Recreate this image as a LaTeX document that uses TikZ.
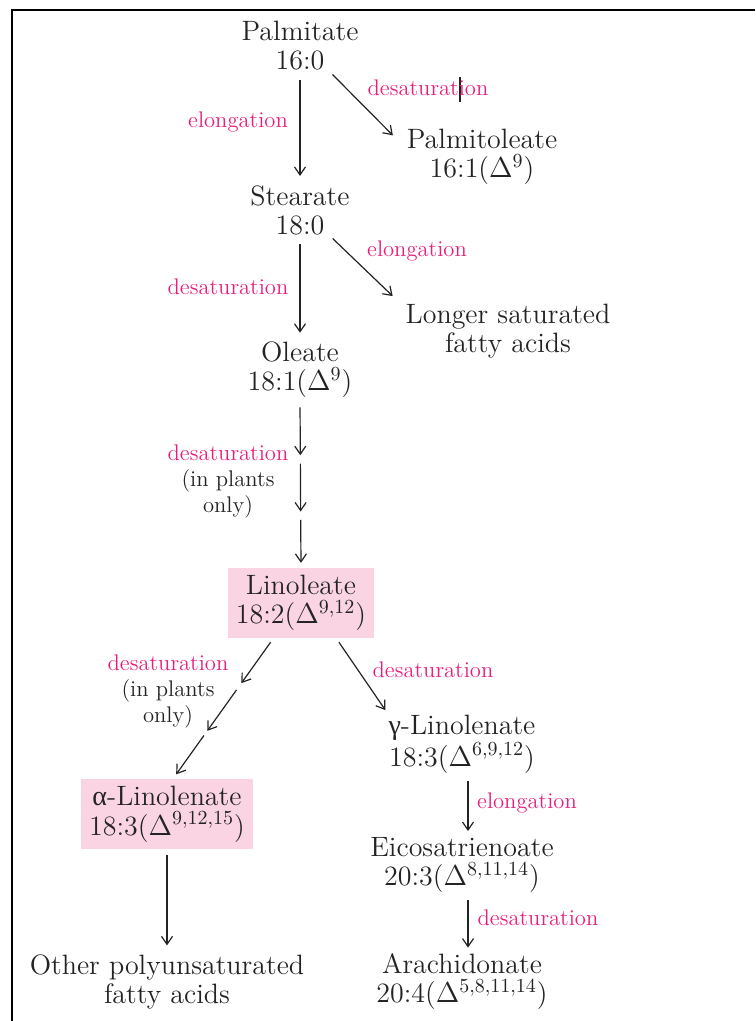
\documentclass[tikz,border=0pt]{standalone}
\usepackage{fontspec}
\newfontfamily\greekfont{Liberation Serif}
\usetikzlibrary{arrows.meta,calc}
\definecolor{enzpink}{RGB}{233,30,125}
\definecolor{boxpink}{RGB}{250,212,226}
\definecolor{ink}{RGB}{35,35,35}

\begin{document}
\begin{tikzpicture}[x=0.5pt,y=-0.5pt,
	acid/.style={align=center,text=ink,inner sep=2pt,font=\fontsize{14}{14.5}\selectfont},
	hilite/.style={acid,fill=boxpink,inner xsep=4pt,inner ysep=3.5pt},
	enz/.style={align=center,text=enzpink,inner sep=1pt,font=\fontsize{11.3}{13}\selectfont},
	rxn/.style={draw=ink,line width=0.6pt,-{Straight Barb[length=4pt,width=5.5pt]},shorten <=2.5pt,shorten >=2.5pt}]
			\useasboundingbox (0,0) rectangle (755,1021);
			%frame
			\draw[line width=1.1pt] (12,1021) -- (12,10) -- (755,10);
			\draw[ink,line width=0.8pt] (460,77) -- (460,102);

			%saturated nodes
			\node [acid] (palm) at (300,46) {Palmitate\\16:0};
			\node [acid] (palmo) at (482,157) {Palmitoleate\\16:1($\Delta^{9}$)};
			\node [acid] (stea) at (300,210) {Stearate\\18:0};
			\node [acid] (longer) at (508,331) {Longer saturated\\fatty acids};
			\node [acid] (ole) at (300,370) {Oleate\\18:1($\Delta^{9}$)};

			%unsaturated nodes
			\node [hilite] (lino) at (301,603) {Linoleate\\18:2($\Delta^{9,12}$)};
			\node [hilite] (alpha) at (167,814) {{\greekfont α}-Linolenate\\[0.5pt]18:3($\Delta^{9,12,15}$)};
			\node [acid] (gamma) at (462,744) {{\greekfont γ}-Linolenate\\[0.5pt]18:3($\Delta^{6,9,12}$)};
			\node [acid] (eico) at (462,865) {Eicosatrienoate\\20:3($\Delta^{8,11,14}$)};
			\node [acid] (arach) at (462,982) {Arachidonate\\20:4($\Delta^{5,8,11,14}$)};
			\node [acid] (other) at (167,982) {Other polyunsaturated\\fatty acids};

			%enzyme labels
			\node [enz] (elong1) at (238,122) {elongation};
			\node [enz] (desat1) at (428,88) {desaturation};
			\node [enz] (desat2) at (228,287) {desaturation};
			\node [enz] (elong2) at (417,251) {elongation};
			\node [enz] (desat3) at (228,481) {desaturation\\\textcolor{ink}{(in plants}\\\textcolor{ink}{only)}};
			\node [enz] (desat4) at (168,691) {desaturation\\\textcolor{ink}{(in plants}\\\textcolor{ink}{only)}};
			\node [enz] (desat5) at (433,670) {desaturation};
			\node [enz] (elong3) at (527,803) {elongation};
			\node [enz] (desat6) at (538,918) {desaturation};

			%arrows
			\draw[rxn] (palm) -- (stea);
			\draw[rxn] ([yshift=2pt]palm.-45) -- ([xshift=-3pt,yshift=-7pt]palmo.north west);
			\draw[rxn] (stea) -- (ole);
			\draw[rxn] ([yshift=2pt]stea.-45) -- ([xshift=-2.5pt,yshift=0pt]longer.north west);
			\draw[rxn] (ole.south) -- ($(ole.south)!.35!(lino.north)$);
			\draw[rxn] ($(ole.south)!.34!(lino.north)$) -- ($(ole.south)!.69!(lino.north)$);
			\draw[rxn] ($(ole.south)!.68!(lino.north)$) -- (lino.north);
			\draw[rxn] (lino.232) -- ($(lino.232)!.35!(alpha.80)$);
			\draw[rxn] ($(lino.232)!.34!(alpha.80)$) -- ($(lino.232)!.69!(alpha.80)$);
			\draw[rxn] ($(lino.232)!.665!(alpha.80)$) -- (alpha.80);
			\draw[rxn] (lino.-45) -- ([xshift=2pt,yshift=-2pt]gamma.north west);
			\draw[rxn,shorten <=1.5pt,shorten >=1pt] ([xshift=3pt]gamma.south) -- ([xshift=3pt]eico.north);
			\draw[rxn,shorten <=1.5pt,shorten >=1pt] ([xshift=3pt]eico.south) -- ([xshift=3pt]arach.north);
			\draw[rxn] (alpha) -- (other);
		\end{tikzpicture}
\end{document}
